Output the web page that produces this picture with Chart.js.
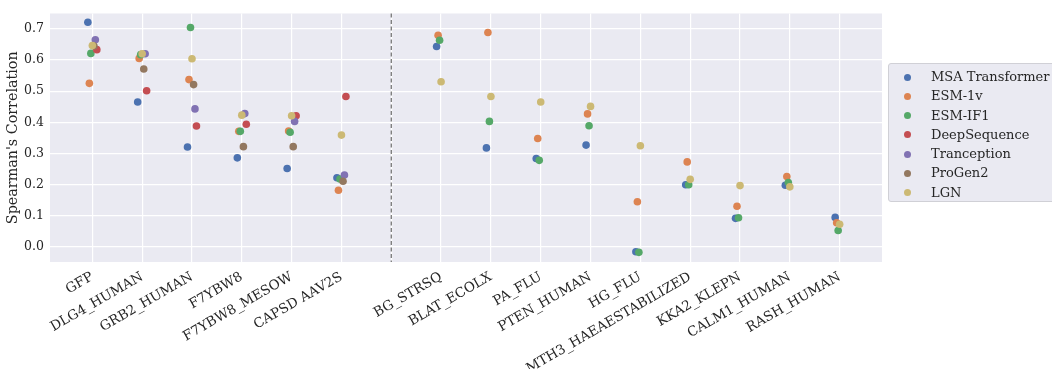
<!DOCTYPE html>
<html>
<head>
<meta charset="utf-8">
<script src="https://cdn.jsdelivr.net/npm/chart.js@4/dist/chart.umd.min.js"></script>
<style>
  html, body { margin: 0; padding: 0; background: #fff; overflow: hidden; }
  #wrap { position: relative; width: 1052px; height: 369px; }
  #legenda {
    position: absolute; left: 888px; top: 63px; width: 180px; height: 139px;
    background: #eaeaf2; border: 1px solid #d0d0d6; border-radius: 3px;
    font-family: "DejaVu Serif", serif; font-size: 13px; color: #262626;
    box-sizing: border-box; padding-top: 3px;
  }
  .leg-item { position: relative; height: 19.3px; line-height: 19.3px; padding-left: 42px; white-space: nowrap; }
  .leg-dot { position: absolute; left: 15px; top: 6.5px; width: 7px; height: 7px; border-radius: 50%; }
</style>
</head>
<body>
<div id="wrap">
  <canvas id="grafico" width="1052" height="369"></canvas>
  <div id="legenda"></div>
</div>
<script>
// categorias (posicao 6 fica vazia: separador tracejado)
const categorias = ['GFP', 'DLG4_HUMAN', 'GRB2_HUMAN', 'F7YBW8', 'F7YBW8_MESOW', 'CAPSD AAV2S', '',
  'BG_STRSQ', 'BLAT_ECOLX', 'PA_FLU', 'PTEN_HUMAN', 'HG_FLU', 'MTH3_HAEAESTABILIZED', 'KKA2_KLEPN', 'CALM1_HUMAN', 'RASH_HUMAN'];

const modelos = ['MSA Transformer', 'ESM-1v', 'ESM-IF1', 'DeepSequence', 'Tranception', 'ProGen2', 'LGN'];

const msaTransformer = [0.721, 0.465, 0.321, 0.286, 0.252, 0.222, null, 0.643, 0.318, 0.284, 0.327, -0.015, 0.200, 0.092, 0.198, 0.095];
const esm1v          = [0.525, 0.605, 0.537, 0.371, 0.372, 0.182, null, 0.679, 0.688, 0.348, 0.427, 0.145, 0.273, 0.131, 0.226, 0.078];
const esmIf1         = [0.621, 0.617, 0.704, 0.371, 0.368, 0.218, null, 0.663, 0.403, 0.278, 0.389, -0.017, 0.200, 0.094, 0.207, 0.053];
const deepSequence   = [0.633, 0.501, 0.388, 0.394, 0.421, 0.483];
const tranception    = [0.665, 0.620, 0.443, 0.428, 0.403, 0.231];
const proGen2        = [0.645, 0.571, 0.521, 0.322, 0.322, 0.211];
const lgn            = [0.646, 0.620, 0.604, 0.423, 0.421, 0.359, null, 0.530, 0.483, 0.465, 0.451, 0.325, 0.217, 0.197, 0.193, 0.073];

const yTicks = [0.0, 0.1, 0.2, 0.3, 0.4, 0.5, 0.6, 0.7];

// estilo
const cores = ['#4c72b0', '#dd8452', '#55a868', '#c44e52', '#8172b3', '#937860', '#ccb974'];
const deslocamento = [-0.09, -0.06, -0.03, 0.09, 0.06, 0.032, 0]; // dodge por modelo
const serie = [msaTransformer, esm1v, esmIf1, deepSequence, tranception, proGen2, lgn];
const fonte = '"DejaVu Serif", serif';

const datasets = modelos.map((nome, i) => ({
  label: nome,
  data: serie[i].map((v, j) => v === null ? null : { x: j + deslocamento[i], y: v }).filter(p => p),
  backgroundColor: cores[i],
  borderWidth: 0,
  pointRadius: 3.8,
  pointHoverRadius: 3.8,
  order: modelos.length - i
}));

const fundoPlot = {
  id: 'fundoPlot',
  beforeDraw(chart) {
    const { ctx, chartArea: a } = chart;
    ctx.save();
    ctx.fillStyle = '#eaeaf2';
    ctx.fillRect(a.left, a.top, a.right - a.left, a.bottom - a.top);
    ctx.restore();
  }
};

const separador = {
  id: 'separador',
  beforeDatasetsDraw(chart) {
    const { ctx, chartArea: a, scales } = chart;
    const x = scales.x.getPixelForValue(6);
    ctx.save();
    ctx.strokeStyle = '#6e6e6e';
    ctx.lineWidth = 1.2;
    ctx.setLineDash([4, 2.5]);
    ctx.beginPath();
    ctx.moveTo(x, a.top);
    ctx.lineTo(x, a.bottom);
    ctx.stroke();
    ctx.restore();
  }
};

new Chart(document.getElementById('grafico'), {
  type: 'scatter',
  data: { datasets },
  options: {
    responsive: false,
    animation: false,
    layout: { padding: { top: 3, right: 170, left: 0, bottom: 0 } },
    plugins: { legend: { display: false }, tooltip: { enabled: false } },
    scales: {
      x: {
        type: 'linear', min: -0.85, max: 15.85,
        afterBuildTicks: s => { s.ticks = categorias.map((c, i) => ({ value: i })); },
        afterFit: s => { s.height = 107; },
        grid: { color: '#ffffff', lineWidth: 1.2, drawTicks: false },
        border: { display: false },
        ticks: {
          autoSkip: false, minRotation: 30, maxRotation: 30, padding: 7,
          color: '#262626', font: { family: fonte, size: 13.5 },
          callback: v => categorias[v]
        }
      },
      y: {
        min: -0.048, max: 0.749,
        afterBuildTicks: s => { s.ticks = yTicks.map(v => ({ value: v })); },
        afterFit: s => { s.width = 50; },
        grid: { color: '#ffffff', lineWidth: 1.2, drawTicks: false },
        border: { display: false },
        ticks: {
          padding: 6, color: '#262626', font: { family: fonte, size: 12.5 },
          callback: v => v.toFixed(1)
        },
        title: {
          display: true, text: "Spearman's Correlation", color: '#262626',
          font: { family: fonte, size: 14.3 }, padding: { top: 5, bottom: 3 }
        }
      }
    }
  },
  plugins: [fundoPlot, separador]
});

// legenda em html
const legendaEl = document.getElementById('legenda');
modelos.forEach((nome, i) => {
  const item = document.createElement('div');
  item.className = 'leg-item';
  const dot = document.createElement('span');
  dot.className = 'leg-dot';
  dot.style.background = cores[i];
  item.appendChild(dot);
  item.appendChild(document.createTextNode(nome));
  legendaEl.appendChild(item);
});
</script>
</body>
</html>
